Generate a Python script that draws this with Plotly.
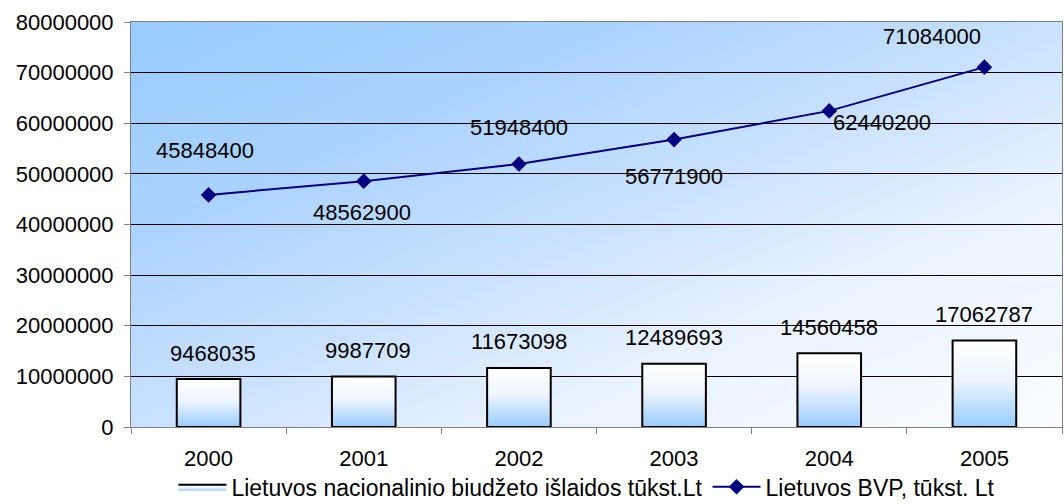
import base64
import plotly.graph_objects as go

# Data
years = ["2000", "2001", "2002", "2003", "2004", "2005"]
budget = [9468035, 9987709, 11673098, 12489693, 14560458, 17062787]
gdp = [45848400, 48562900, 51948400, 56771900, 62440200, 71084000]

budget_name = "Lietuvos nacionalinio biudžeto išlaidos tūkst.Lt"
gdp_name = "Lietuvos BVP, tūkst. Lt"

# Label offsets (pixels) for the GDP value labels
gdp_label_dx = [-4, -2, 0, 0, 53, -52]
gdp_label_dy = [44, -31, 37, -37, -12, 31]

FONT = "Liberation Sans, Arial, sans-serif"
FS = 22
NAVY = "#000080"
BAR_HALF = 0.205

fig = go.Figure()

# Diagonal gradient for the plotting area
bg_svg = (
    "<svg xmlns='http://www.w3.org/2000/svg' width='200' height='100' preserveAspectRatio='none'>"
    "<defs><linearGradient id='g' x1='0' y1='0' x2='1' y2='1'>"
    "<stop offset='0' stop-color='#99CCFF'/>"
    "<stop offset='0.26' stop-color='#AAD2FF'/>"
    "<stop offset='0.5' stop-color='#C9E1FF'/>"
    "<stop offset='0.7' stop-color='#E8F2FF'/>"
    "<stop offset='1' stop-color='#FBFDFF'/>"
    "</linearGradient></defs>"
    "<rect width='200' height='100' fill='url(#g)'/></svg>"
)
bg_src = "data:image/svg+xml;base64," + base64.b64encode(bg_svg.encode()).decode()
fig.add_layout_image(
    source=bg_src, xref="paper", yref="paper", x=0, y=1, sizex=1, sizey=1,
    xanchor="left", yanchor="top", sizing="stretch", layer="below",
)

# Budget bars drawn as gradient-filled rectangles
for i, v in enumerate(budget):
    xs = [i - BAR_HALF, i + BAR_HALF, i + BAR_HALF, i - BAR_HALF, i - BAR_HALF]
    ys = [0, 0, v, v, 0]
    fig.add_trace(go.Scatter(
        x=xs, y=ys, mode="lines", fill="toself",
        fillgradient=dict(
            type="vertical",
            colorscale=[[0, "#99CCFF"], [0.55, "#EEF5FF"], [1, "#FFFFFF"]],
        ),
        line=dict(color="black", width=2),
        name=budget_name, legendgroup="budget", showlegend=(i == 0),
        hoverinfo="skip",
    ))

# GDP line
fig.add_trace(go.Scatter(
    x=list(range(len(years))), y=gdp, mode="lines+markers",
    line=dict(color=NAVY, width=2),
    marker=dict(symbol="diamond", size=12, color=NAVY),
    name=gdp_name,
))

annotations = []
for i, v in enumerate(budget):
    annotations.append(dict(
        x=i, y=v, xref="x", yref="y", text=str(v), showarrow=False,
        yshift=26, xshift=4 if i < 2 else 0,
        font=dict(family=FONT, size=FS, color="black"),
    ))
for i, v in enumerate(gdp):
    annotations.append(dict(
        x=i, y=v, xref="x", yref="y", text=str(v), showarrow=False,
        xshift=gdp_label_dx[i], yshift=gdp_label_dy[i],
        font=dict(family=FONT, size=FS, color="black"),
    ))

fig.update_layout(
    width=1064, height=504,
    margin=dict(l=131, r=2, t=22, b=77, autoexpand=False),
    paper_bgcolor="white", plot_bgcolor="rgba(0,0,0,0)",
    font=dict(family=FONT, size=FS, color="black"),
    showlegend=True,
    legend=dict(
        orientation="h", x=0.163, xanchor="left", xref="container",
        y=0.034, yanchor="middle", yref="container",
        font=dict(family=FONT, size=23, color="black"),
        itemwidth=48, tracegroupgap=0, bgcolor="rgba(0,0,0,0)",
    ),
    annotations=annotations,
    xaxis=dict(
        range=[-0.5, len(years) - 0.5],
        tickmode="array", tickvals=list(range(len(years))), ticktext=years,
        ticks="", showgrid=False, zeroline=False,
        showline=True, linecolor="#808080", linewidth=1, mirror=True,
        ticklabelstandoff=12,
        minor=dict(
            tickmode="array",
            tickvals=[k - 0.5 for k in range(len(years) + 1)],
            ticks="outside", ticklen=6, tickcolor="#808080", showgrid=False,
        ),
        fixedrange=True,
    ),
    yaxis=dict(
        range=[0, 80000000], dtick=10000000, tickformat="d",
        ticks="outside", ticklen=6, tickcolor="#808080",
        ticklabelstandoff=6,
        showgrid=True, gridcolor="black", gridwidth=1,
        zeroline=False,
        showline=True, linecolor="#808080", linewidth=1, mirror=True,
        fixedrange=True,
    ),
)

fig.write_html("out.html")
